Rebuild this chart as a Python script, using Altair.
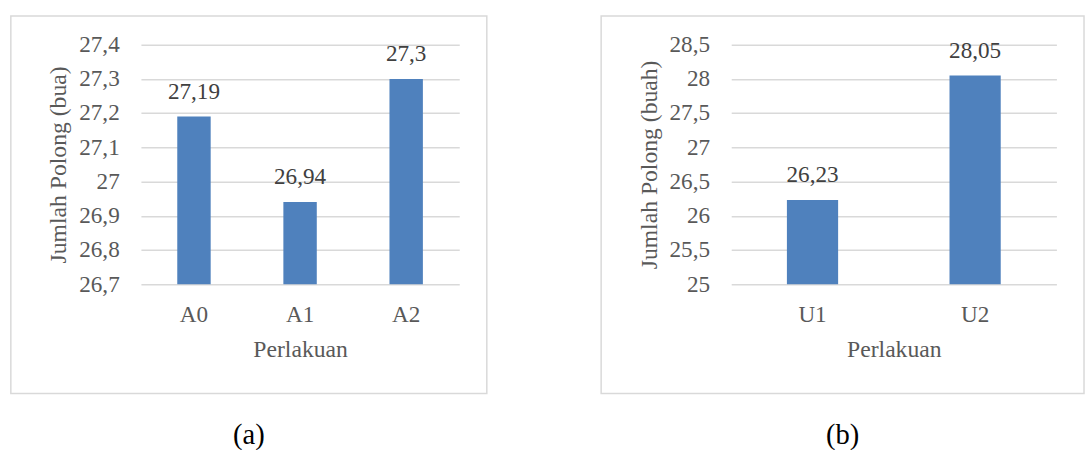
import altair as alt
import pandas as pd

# ---- data ----
cats_a = ["A0", "A1", "A2"]
vals_a = [27.19, 26.94, 27.3]
ticks_a = [26.7, 26.8, 26.9, 27.0, 27.1, 27.2, 27.3, 27.4]

cats_b = ["U1", "U2"]
vals_b = [26.23, 28.05]
ticks_b = [25.0, 25.5, 26.0, 26.5, 27.0, 27.5, 28.0, 28.5]

FONT = "Liberation Serif"
BAR = "#4f81bd"
GRID = "#d9d9d9"
LABEL = "#595959"
COMMA = "replace(format(datum.value, '.6~g'), '.', ',')"
FS = 23.5


def panel(cats, vals, ticks, ytitle, width, caption):
    df = pd.DataFrame({"cat": cats, "val": vals})
    base = alt.Chart(df)
    x = alt.X(
        "cat:N", sort=cats, title="Perlakuan",
        scale=alt.Scale(paddingInner=0.685, paddingOuter=0.3425),
        axis=alt.Axis(labelAngle=0, domain=False, ticks=False, tickSize=0,
                      grid=False, labelPadding=19, titlePadding=12,
                      labelFont=FONT, labelFontSize=FS, labelColor=LABEL,
                      titleFont=FONT, titleFontSize=24, titleColor=LABEL,
                      titleFontWeight="normal"))
    y = alt.Y(
        "val:Q", title=ytitle,
        scale=alt.Scale(domain=[ticks[0], ticks[-1]], nice=False, zero=False),
        axis=alt.Axis(values=ticks, labelExpr=COMMA, grid=True,
                      gridColor=GRID, gridWidth=1.5, domain=False,
                      ticks=False, tickSize=0, labelPadding=22,
                      titlePadding=8, labelFont=FONT, labelFontSize=FS,
                      labelColor=LABEL, titleFont=FONT, titleFontSize=24,
                      titleColor=LABEL, titleFontWeight="normal"))

    box = alt.Chart(pd.DataFrame({"k": [0]})).mark_rect(
        fillOpacity=0, stroke=GRID, strokeWidth=1.5
    ).encode(x=alt.value(-132), x2=alt.value(width + 28),
             y=alt.value(-29), y2=alt.value(354))

    bars = base.mark_bar(color=BAR).encode(x=x, y=y, y2=alt.datum(ticks[0]))

    text = base.transform_calculate(
        lbl="replace(format(datum.val, '.6~g'), '.', ',')"
    ).mark_text(dy=-18, baseline="alphabetic", font=FONT, fontSize=FS,
                color="#404040").encode(x=x, y=y, text="lbl:N")

    return alt.layer(box, bars, text).properties(
        width=width, height=243,
        title=alt.TitleParams(caption, orient="bottom", anchor="middle",
                              frame="bounds", font=FONT, fontSize=29,
                              fontWeight="normal", color="black",
                              baseline="top", offset=27))


chart_a = panel(cats_a, vals_a, ticks_a, "Jumlah Polong (bua)", 323, "(a)")
chart_b = panel(cats_b, vals_b, ticks_b, "Jumlah Polong (buah)", 330, "(b)")

chart = alt.hconcat(chart_a, chart_b, spacing=114).properties(
    padding={"left": 10, "top": 12, "right": 0, "bottom": 0}
).configure_view(strokeWidth=0)

chart.save("out.html", embed_options={"renderer": "svg", "actions": False})
